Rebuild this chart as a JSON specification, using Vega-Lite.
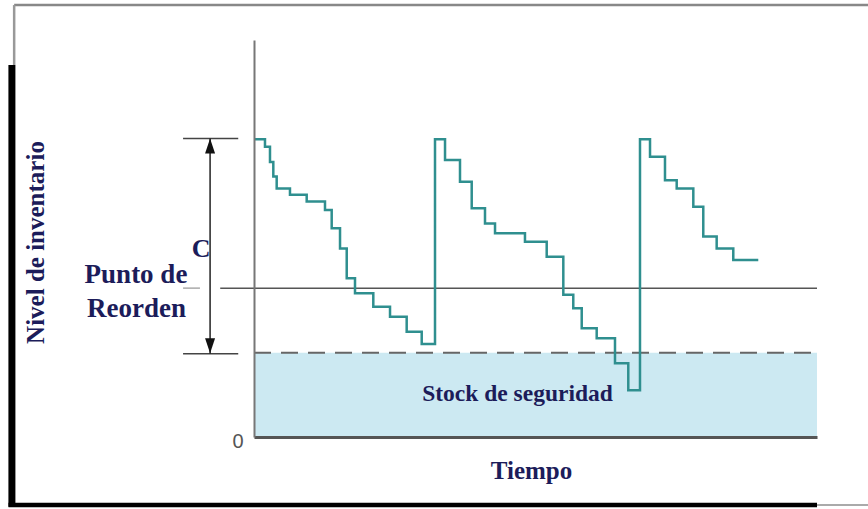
{
  "$schema": "https://vega.github.io/schema/vega-lite/v6.json",
  "width": 563,
  "height": 397,
  "autosize": {"type": "none"},
  "padding": {"left": 254, "top": 40, "right": 51, "bottom": 72},
  "background": "white",
  "config": {"view": {"stroke": null}, "axis": {"grid": false}},
  "data": {"values": [{}]},
  "datasets": {
    "inventario": [
      {"t": 0, "nivel": 75},
      {"t": 1.95, "nivel": 73.1},
      {"t": 2.84, "nivel": 69.3},
      {"t": 3.43, "nivel": 65.6},
      {"t": 4.03, "nivel": 62.6},
      {"t": 6.39, "nivel": 61.0},
      {"t": 9.36, "nivel": 59.3},
      {"t": 12.61, "nivel": 57.2},
      {"t": 13.8, "nivel": 52.6},
      {"t": 15.28, "nivel": 47.5},
      {"t": 16.47, "nivel": 40.0},
      {"t": 17.94, "nivel": 36.2},
      {"t": 21.19, "nivel": 32.8},
      {"t": 24.16, "nivel": 30.3},
      {"t": 27.12, "nivel": 26.5},
      {"t": 29.79, "nivel": 23.4},
      {"t": 32.15, "nivel": 75},
      {"t": 33.93, "nivel": 69.8},
      {"t": 36.59, "nivel": 64.3},
      {"t": 38.67, "nivel": 57.6},
      {"t": 41.03, "nivel": 53.8},
      {"t": 42.81, "nivel": 51.3},
      {"t": 48.13, "nivel": 49.2},
      {"t": 51.99, "nivel": 45.4},
      {"t": 54.94, "nivel": 35.8},
      {"t": 56.71, "nivel": 32.4},
      {"t": 58.21, "nivel": 27.4},
      {"t": 60.87, "nivel": 24.9},
      {"t": 64.12, "nivel": 18.6},
      {"t": 66.48, "nivel": 11.8},
      {"t": 68.56, "nivel": 75},
      {"t": 70.34, "nivel": 70.6},
      {"t": 73.0, "nivel": 64.7},
      {"t": 75.08, "nivel": 62.6},
      {"t": 78.03, "nivel": 58.0},
      {"t": 79.8, "nivel": 50.5},
      {"t": 82.18, "nivel": 47.5},
      {"t": 85.13, "nivel": 44.6},
      {"t": 89.57, "nivel": 44.6}
    ]
  },
  "layer": [
    {
      "mark": {"type": "rect", "fill": "#cce9f2"},
      "encoding": {
        "x": {"datum": 0, "type": "quantitative", "scale": {"domain": [0, 100], "nice": false, "zero": false},
          "axis": {"zindex": 1, "domain": true, "domainColor": "#555", "domainWidth": 3, "ticks": false, "labels": false,
            "title": "Tiempo", "titleFont": "Liberation Serif", "titleFontSize": 25, "titleFontWeight": "bold", "titleColor": "#1c1c5a",
            "titleX": 277, "titleY": 41, "titleBaseline": "alphabetic", "titleAlign": "center"}},
        "x2": {"datum": 100},
        "y": {"datum": 0, "type": "quantitative", "scale": {"domain": [0, 100], "nice": false, "zero": false},
          "axis": {"zindex": 1, "values": [0], "domain": true, "domainColor": "#777", "domainWidth": 2, "ticks": false,
            "labelFont": "Liberation Sans", "labelFontSize": 20, "labelColor": "#555", "labelPadding": 11, "labelBaseline": "middle", "labelOffset": 4,
            "title": "Nivel de inventario", "titleFont": "Liberation Serif", "titleFontSize": 25, "titleFontWeight": "bold", "titleColor": "#1c1c5a",
            "titleAngle": -90, "titleX": -211, "titleY": 202, "titleBaseline": "alphabetic", "titleAlign": "center"}},
        "y2": {"datum": 21.2}
      }
    },
    {
      "mark": {"type": "rule", "color": "#666", "strokeWidth": 2, "strokeDash": [17, 10]},
      "encoding": {"x": {"datum": 0, "type": "quantitative"}, "x2": {"datum": 100}, "y": {"datum": 21.2, "type": "quantitative"}}
    },
    {
      "mark": {"type": "rule", "color": "#555", "strokeWidth": 1.5},
      "encoding": {"x": {"datum": -6.0, "type": "quantitative"}, "x2": {"datum": 100}, "y": {"datum": 37.5, "type": "quantitative"}}
    },
    {
      "mark": {"type": "rule", "color": "#aaa", "strokeWidth": 1.5},
      "encoding": {"x": {"datum": -12.6, "type": "quantitative"}, "x2": {"datum": -9.6}, "y": {"datum": 37.5, "type": "quantitative"}}
    },
    {
      "mark": {"type": "rule", "color": "#444", "strokeWidth": 1.5},
      "encoding": {"x": {"datum": -12.6, "type": "quantitative"}, "x2": {"datum": -2.8}, "y": {"datum": 75.2, "type": "quantitative"}}
    },
    {
      "mark": {"type": "rule", "color": "#444", "strokeWidth": 1.5},
      "encoding": {"x": {"datum": -12.6, "type": "quantitative"}, "x2": {"datum": -2.8}, "y": {"datum": 21.0, "type": "quantitative"}}
    },
    {
      "mark": {"type": "rule", "color": "#222", "strokeWidth": 1.5},
      "encoding": {"x": {"datum": -7.8, "type": "quantitative"}, "y": {"datum": 75.2, "type": "quantitative"}, "y2": {"datum": 21.0}}
    },
    {
      "mark": {"type": "point", "shape": "M0,-1L0.667,1L-0.667,1Z", "size": 225, "filled": true, "color": "#111", "opacity": 1},
      "encoding": {"x": {"datum": -7.8, "type": "quantitative"}, "y": {"datum": 73.3, "type": "quantitative"}}
    },
    {
      "mark": {"type": "point", "shape": "M0,1L0.667,-1L-0.667,-1Z", "size": 225, "filled": true, "color": "#111", "opacity": 1},
      "encoding": {"x": {"datum": -7.8, "type": "quantitative"}, "y": {"datum": 23.0, "type": "quantitative"}}
    },
    {
      "data": {"name": "inventario"},
      "mark": {"type": "line", "interpolate": "step-after", "color": "#2f8f8f", "strokeWidth": 2.5},
      "encoding": {"x": {"field": "t", "type": "quantitative"}, "y": {"field": "nivel", "type": "quantitative"}}
    },
    {
      "mark": {"type": "text", "font": "Liberation Serif", "fontWeight": "bold", "fontSize": 27, "color": "#1c1c5a", "align": "center", "baseline": "alphabetic"},
      "encoding": {"x": {"datum": -20.96, "type": "quantitative"}, "y": {"datum": 38.8, "type": "quantitative"}, "text": {"value": "Punto de"}}
    },
    {
      "mark": {"type": "text", "font": "Liberation Serif", "fontWeight": "bold", "fontSize": 27, "color": "#1c1c5a", "align": "center", "baseline": "alphabetic"},
      "encoding": {"x": {"datum": -20.87, "type": "quantitative"}, "y": {"datum": 30.2, "type": "quantitative"}, "text": {"value": "Reorden"}}
    },
    {
      "mark": {"type": "text", "font": "Liberation Serif", "fontWeight": "bold", "fontSize": 26, "color": "#1c1c5a", "align": "center", "baseline": "alphabetic"},
      "encoding": {"x": {"datum": -9.41, "type": "quantitative"}, "y": {"datum": 45.3, "type": "quantitative"}, "text": {"value": "C"}}
    },
    {
      "mark": {"type": "text", "font": "Liberation Serif", "fontWeight": "bold", "fontSize": 23.5, "color": "#1c1c5a", "align": "center", "baseline": "alphabetic"},
      "encoding": {"x": {"datum": 46.8, "type": "quantitative"}, "y": {"datum": 9.1, "type": "quantitative"}, "text": {"value": "Stock de seguridad"}}
    },
    {
      "mark": {"type": "rule", "color": "#888", "strokeWidth": 2.5},
      "encoding": {"x": {"datum": -42.6, "type": "quantitative"}, "x2": {"datum": 109.1}, "y": {"datum": 108.8, "type": "quantitative"}}
    },
    {
      "mark": {"type": "rule", "color": "#999", "strokeWidth": 2.5},
      "encoding": {"x": {"datum": -42.6, "type": "quantitative"}, "y": {"datum": 93.7, "type": "quantitative"}, "y2": {"datum": 108.8}}
    },
    {
      "mark": {"type": "rule", "color": "#000", "strokeWidth": 7},
      "encoding": {"x": {"datum": -43.0, "type": "quantitative"}, "y": {"datum": -17.6, "type": "quantitative"}, "y2": {"datum": 93.7}}
    },
    {
      "mark": {"type": "rule", "color": "#000", "strokeWidth": 4.5},
      "encoding": {"x": {"datum": -43.6, "type": "quantitative"}, "x2": {"datum": 100}, "y": {"datum": -17.1, "type": "quantitative"}}
    },
    {
      "mark": {"type": "rule", "color": "#aaa", "strokeWidth": 2},
      "encoding": {"x": {"datum": 100, "type": "quantitative"}, "x2": {"datum": 109.1}, "y": {"datum": -17.1, "type": "quantitative"}}
    }
  ]
}
